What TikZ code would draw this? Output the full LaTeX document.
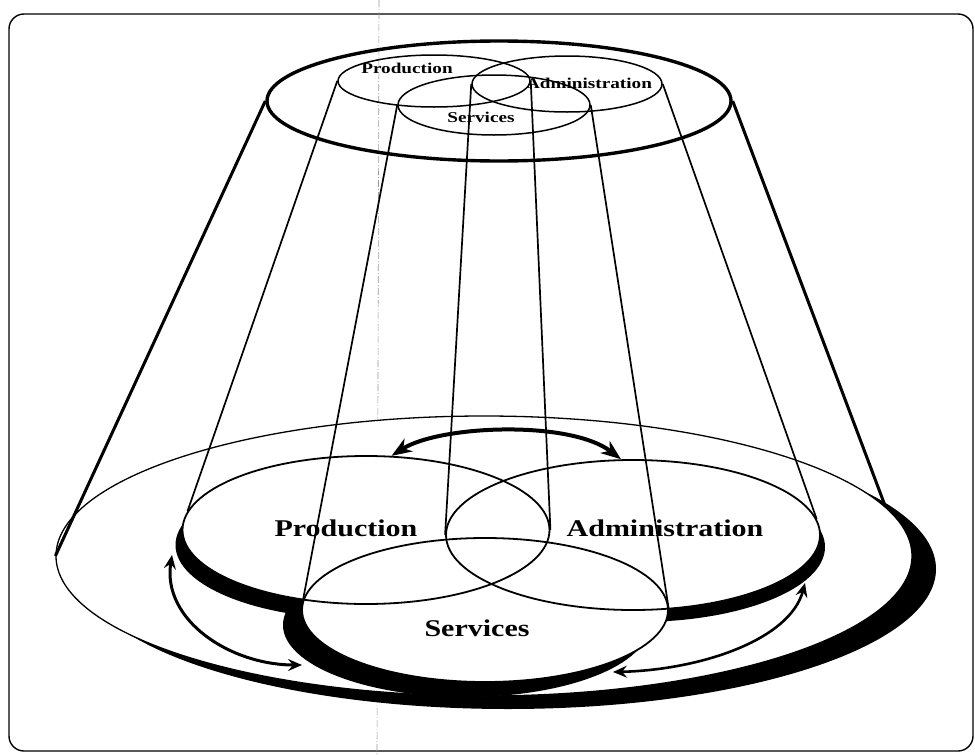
\documentclass[tikz,border=0pt]{standalone}
\usepackage{fontspec}
\setmainfont{Liberation Serif}
\usetikzlibrary{shapes.geometric,arrows.meta}
\newcommand{\widetext}[2]{\scalebox{#1}[1]{#2}}

\begin{document}
\begin{tikzpicture}[x=1pt, y=-1pt,
      ring/.style={draw, ellipse, inner sep=0pt, line width=1.8pt},
      blankfill/.style={ellipse, inner sep=0pt, fill=white},
      shd/.style={ellipse, inner sep=0pt, fill=black},
      wire/.style={line width=1.7pt},
      rim/.style={line width=3pt},
      biglbl/.style={font=\fontsize{24}{28}\selectfont\bfseries, anchor=base, inner sep=0pt},
      smalllbl/.style={font=\fontsize{15}{18}\selectfont\bfseries, anchor=base, inner sep=0pt},
      flowtip/.style={{Stealth[length=14pt,width=12pt,inset=5pt]}-{Stealth[length=14pt,width=12pt,inset=5pt]}},
    ]
    \useasboundingbox (0,0) rectangle (975,755);
    %% frame and fold mark of the sheet
    \draw[line width=1.4pt, rounded corners=15pt] (9,14) rectangle (973,751);
    \draw[black!40, line width=0.6pt, dash pattern=on 7pt off 2pt on 1pt off 2pt] (379,0) -- (377,755);

    %% bottom plane with its shadow
    \node[shd, minimum width=856pt, minimum height=280pt] (sB) at (508,569) {};
    \node[ring, fill=white, line width=1.3pt, minimum width=856pt, minimum height=280pt] (bB) at (484,556) {};

    %% shadows of the three lower sets
    \node[shd, minimum width=367pt, minimum height=148pt] (sP) at (359,545) {};
    \node[shd, minimum width=374pt, minimum height=150pt] (sA) at (638,547) {};
    \node[shd, minimum width=366pt, minimum height=144pt] (sS) at (466,625) {};
    %% white insides
    \node[blankfill, minimum width=367pt, minimum height=148pt] (fP) at (366,530) {};
    \node[blankfill, minimum width=374pt, minimum height=150pt] (fA) at (633,535) {};
    \node[blankfill, minimum width=366pt, minimum height=144pt] (fS) at (485,610) {};
    %% outlines
    \node[ring, minimum width=367pt, minimum height=148pt] (bP) at (366,530) {};
    \node[ring, minimum width=374pt, minimum height=150pt] (bA) at (633,535) {};
    \node[ring, minimum width=366pt, minimum height=144pt] (bS) at (485,610) {};

    %% top plane
    \node[ring, line width=3.4pt, minimum width=464pt, minimum height=120pt] (tT) at (499,101) {};
    \node[ring, line width=1.5pt, minimum width=192pt, minimum height=52pt] (tP) at (434,81) {};
    \node[ring, line width=1.5pt, minimum width=190pt, minimum height=56pt] (tA) at (567,84) {};
    \node[ring, line width=1.5pt, minimum width=192pt, minimum height=60pt] (tS) at (494,105) {};

    %% labels
    \node[smalllbl] (ltP) at (407,73) {\widetext{1.28}{Production}};
    \node[smalllbl] (ltA) at (589,88) {\widetext{1.28}{Administration}};
    \node[smalllbl] (ltS) at (481,122) {\widetext{1.28}{Services}};
    \node[biglbl] (lbP) at (346,536) {\widetext{1.25}{Production}};
    \node[biglbl] (lbA) at (665,536) {\widetext{1.25}{Administration}};
    \node[biglbl] (lbS) at (477,636) {\widetext{1.25}{Services}};

    %% projection lines
    \draw[rim] (tT.west) -- (bB.west);
    \draw[rim] (tT.east) -- (bB.7);
    \draw[wire] (tP.west) -- (bP.174);
    \draw[wire] (tP.east) -- (bP.east);
    \draw[wire] (tA.west) -- (bA.west);
    \draw[wire] (tA.east) -- (bA.5);
    \draw[wire] (tS.west) -- (bS.west);
    \draw[wire] (tS.east) -- (bS.east);

    %% exchanges between the sets
    \coordinate (lfA) at (172,555);
    \coordinate (lfB) at (302,665);
    \coordinate (rtA) at (613,672);
    \coordinate (rtB) at (805,583);
    \draw[line width=4pt, {Stealth[length=20pt,width=15pt,inset=6pt]}-{Stealth[length=20pt,width=15pt,inset=6pt]}]
      (bP.71) .. controls (440,425) and (570,420) .. (bA.99);
    \draw[line width=3pt, flowtip] (lfA) .. controls (162,620) and (230,665) .. (lfB);
    \draw[line width=2.6pt, flowtip] (rtA) .. controls (700,670) and (790,640) .. (rtB);
\end{tikzpicture}
\end{document}
